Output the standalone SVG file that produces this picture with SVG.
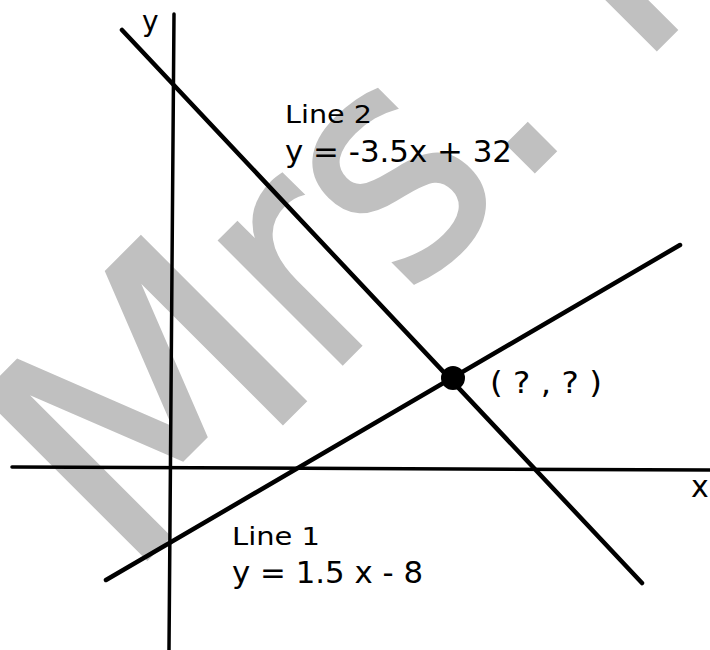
<svg xmlns="http://www.w3.org/2000/svg" width="710" height="650" viewBox="0 0 710 650">
<style>
.wm{font-family:"DejaVu Sans Condensed","DejaVu Sans",sans-serif;font-stretch:condensed;font-size:320px;fill:#c0c0c0;stroke:#c0c0c0;stroke-width:2}
.wide{font-family:"DejaVu Sans",sans-serif;font-stretch:normal}
.ax{stroke:#000;stroke-width:3.5;fill:none;stroke-linecap:round}
.ln{stroke:#000;stroke-width:4.5;fill:none;stroke-linecap:round}
.lb{font-family:"DejaVu Sans","Verdana",sans-serif;fill:#000}
.t1{font-size:25px}
.t2{font-size:30px}
</style>
<rect width="710" height="650" fill="#fff"/>
<g id="watermark">
<text class="wm" transform="translate(127,580) rotate(-45) scale(1.05,1)"><tspan class="wide" x="-4">M</tspan></text>
<text class="wm" transform="translate(127,580) rotate(-45)"><tspan x="279">r</tspan><tspan x="397">s</tspan><tspan x="546">. </tspan><tspan x="721">H</tspan></text>
</g>
<g id="connectors">
<line id="x-axis" class="ax" x1="12" y1="467" x2="710" y2="470"/>
<line id="y-axis" class="ax" x1="174" y1="14" x2="169" y2="650"/>
<line id="line2" class="ln" x1="122" y1="30" x2="642" y2="583"/>
<line id="line1" class="ln" x1="106" y1="580" x2="680" y2="245"/>
</g>
<g id="point">
<circle cx="453" cy="378" r="12" fill="#000"/>
<text class="lb t2" x="490" y="393" textLength="112" lengthAdjust="spacingAndGlyphs">( ? , ? )</text>
</g>
<g id="axis-labels">
<text class="lb" font-size="28" x="142" y="31">y</text>
<text class="lb" font-size="30" x="691" y="497">x</text>
</g>
<g id="line2-label">
<text class="lb t1" x="285" y="123" textLength="87" lengthAdjust="spacingAndGlyphs">Line 2</text>
<text class="lb t2" x="285" y="162" textLength="227" lengthAdjust="spacingAndGlyphs">y = -3.5x + 32</text>
</g>
<g id="line1-label">
<text class="lb t1" x="232" y="545" textLength="88" lengthAdjust="spacingAndGlyphs">Line 1</text>
<text class="lb t2" x="232" y="583" textLength="191" lengthAdjust="spacingAndGlyphs">y = 1.5 x - 8</text>
</g>
</svg>
